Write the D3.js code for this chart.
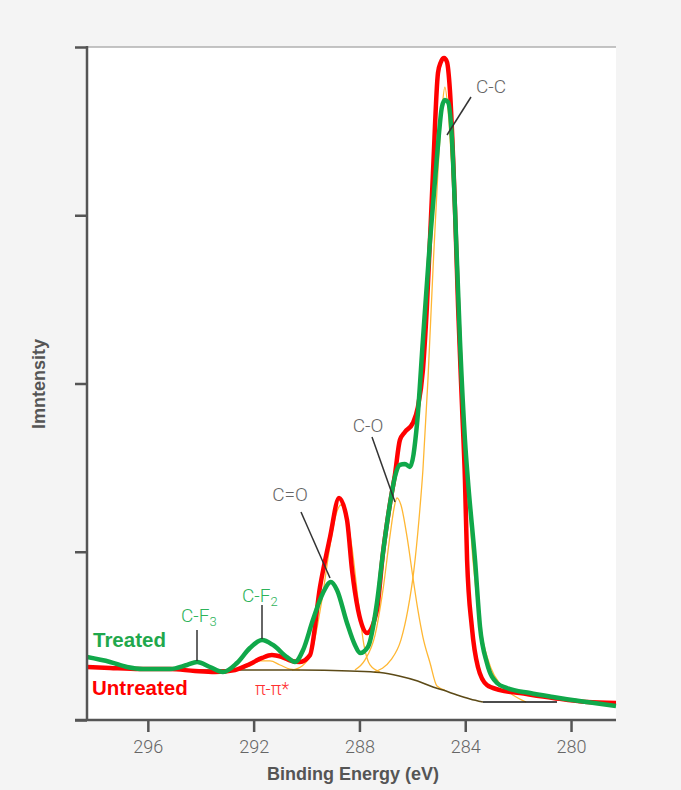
<!DOCTYPE html>
<html><head><meta charset="utf-8">
<script src="https://cdn.jsdelivr.net/npm/d3@7/dist/d3.min.js"></script>
<style>
html,body{margin:0;padding:0;background:#f4f4f4;}
svg{display:block;}
</style></head>
<body>
<svg id="chart" width="681" height="790"></svg>
<script>
// ---- Data (binding energy in eV, intensity in arbitrary counts) ----
const xTicks = [296, 292, 288, 284, 280];
const yTicks = [0, 1000, 2000, 3000, 4000];

const untreatedE = [298.30,297.43,296.30,295.16,294.22,293.46,292.70,292.14,291.68,291.31,290.93,290.55,290.25,289.87,289.49,289.11,288.77,288.47,288.28,288.05,287.71,287.34,287.11,286.84,286.66,286.47,286.28,285.98,285.79,285.60,285.45,285.22,285.03,284.92,284.80,284.69,284.58,284.39,284.27,284.12,284.01,283.93,283.75,283.52,283.18,282.69,281.93,280.68,279.40,278.30];
const untreatedI = [315,309,303,303,291,285,297,333,369,386,374,351,345,386,791,1088,1320,1189,892,654,517,654,993,1290,1456,1664,1712,1765,1860,2080,2455,3251,3846,3911,3935,3911,3745,3049,2455,1860,1427,951,553,315,208,178,160,131,107,101];

const treatedE = [298.30,297.43,296.79,296.18,295.16,294.52,294.14,293.65,293.16,292.63,292.14,291.68,291.27,290.74,290.44,290.13,289.76,289.38,289.08,288.85,288.47,288.17,287.98,287.68,287.34,287.11,286.84,286.66,286.47,286.28,286.09,285.82,285.60,285.33,285.07,284.88,284.77,284.65,284.50,284.39,284.20,284.01,283.90,283.63,283.44,283.18,282.80,282.42,281.55,280.68,279.40,278.30];
const treatedI = [374,345,315,303,303,327,345,315,285,339,428,476,446,374,345,416,594,755,820,773,577,446,398,434,695,993,1290,1444,1516,1522,1504,1765,2259,2853,3346,3644,3685,3673,3448,3049,2259,1664,1427,951,553,339,220,190,160,137,107,83];

const backgroundE = [294.03,292.14,290.25,288.36,287.22,286.50,285.80,285.22,284.84,284.31,283.82,283.33];
const backgroundI = [297,297,297,291,282,262,232,196,178,149,125,107];
const flatE = [283.33, 280.53];
const flatI = [107, 107];

// fitted components (orange)
const compCC_E = [287.45,286.81,286.43,286.17,285.94,285.75,285.60,285.41,285.22,285.03,284.88,284.77,284.65,284.50,284.31,284.12,283.93,283.71,283.40,283.03,282.65,282.20,281.70];
const compCC_I = [285,357,476,654,892,1189,1486,2021,2675,3269,3626,3762,3626,3269,2675,2021,1486,951,535,309,208,149,107];
const compCO_E = [288.17,287.79,287.41,287.11,286.84,286.69,286.58,286.43,286.20,285.98,285.79,285.60,285.33,285.07,284.77];
const compCO_I = [297,357,505,773,1100,1260,1320,1278,1088,850,654,493,339,202,178];
const compCEO_E = [290.55,290.17,289.79,289.42,289.11,288.89,288.70,288.51,288.28,288.05,287.83,287.60,287.22];
const compCEO_I = [297,321,416,713,1040,1219,1278,1219,1022,713,446,327,285];
const compPi_E = [292.70,292.14,291.76,291.38,291.00,290.63,290.25];
const compPi_I = [297,321,351,351,327,303,297];

// ---- Layout ----
const svg = d3.select('#chart');
const L = 87, R = 616, T = 47, B = 720;
const x = d3.scaleLinear().domain([298.3, 278.3]).range([L, R]);
const y = d3.scaleLinear().domain([0, 4000]).range([B, T]);

svg.append('rect').attr('x', L).attr('y', T).attr('width', R - L).attr('height', B - T).attr('fill', '#ffffff');
svg.append('line').attr('x1', L).attr('x2', R).attr('y1', T).attr('y2', T).attr('stroke', '#b0b0b0').attr('stroke-width', 1.5);

const zip = (E, I) => E.map((e, i) => ({e, v: I[i]})).sort((a, b) => x(a.e) - x(b.e));
const line = d3.line().x(d => x(d.e)).y(d => y(d.v)).curve(d3.curveMonotoneX);

const g = svg.append('g');
[[compPi_E, compPi_I], [compCEO_E, compCEO_I], [compCO_E, compCO_I], [compCC_E, compCC_I]].forEach(([E, I]) => {
  g.append('path').attr('d', line(zip(E, I))).attr('fill', 'none').attr('stroke', '#ffb733').attr('stroke-width', 1.3);
});
g.append('path').attr('d', line(zip(flatE, flatI))).attr('fill', 'none').attr('stroke', '#111').attr('stroke-width', 1.3);
g.append('path').attr('d', line(zip(backgroundE, backgroundI))).attr('fill', 'none').attr('stroke', '#5c4a17').attr('stroke-width', 1.6);

g.append('path').attr('d', line(zip(untreatedE, untreatedI))).attr('fill', 'none').attr('stroke', '#ff0000').attr('stroke-width', 4.5).attr('stroke-linejoin', 'round');
g.append('path').attr('d', line(zip(treatedE, treatedI))).attr('fill', 'none').attr('stroke', '#10a84a').attr('stroke-width', 4.5).attr('stroke-linejoin', 'round');

// ---- Axes ----
const xAxis = d3.axisBottom(x).tickValues(xTicks).tickSize(12).tickPadding(8).tickFormat(d3.format('d'));
const xg = svg.append('g').attr('transform', `translate(0,${B})`).call(xAxis);
xg.select('.domain').remove();
xg.selectAll('.tick line').attr('stroke', '#555').attr('stroke-width', 2.5);
xg.selectAll('.tick text').attr('fill', '#666').attr('font-size', 18).attr('font-family', 'Roboto, "Liberation Sans", Arial, sans-serif').attr('font-weight', 300);
svg.append('line').attr('x1', 75).attr('x2', R).attr('y1', B).attr('y2', B).attr('stroke', '#555').attr('stroke-width', 2.5);

const yAxis = d3.axisLeft(y).tickValues(yTicks).tickSize(12).tickFormat('');
const yg = svg.append('g').attr('transform', `translate(${L},0)`).call(yAxis);
yg.select('.domain').remove();
yg.selectAll('.tick line').attr('stroke', '#555').attr('stroke-width', 2.5);
svg.append('line').attr('x1', L).attr('x2', L).attr('y1', T - 1).attr('y2', B).attr('stroke', '#555').attr('stroke-width', 2.5);

const font = '"Liberation Sans", Arial, sans-serif';
svg.append('text').attr('x', 353).attr('y', 780).attr('text-anchor', 'middle').attr('font-family', font).attr('font-weight', 'bold').attr('font-size', 18).attr('fill', '#555').text('Binding Energy (eV)');
svg.append('text').attr('transform', 'translate(45,384) rotate(-90)').attr('text-anchor', 'middle').attr('font-family', font).attr('font-weight', 'bold').attr('font-size', 18).attr('fill', '#555').text('Imntensity');

// ---- Annotations ----
const ann = svg.append('g').attr('font-family', 'Roboto, "Liberation Sans", Arial, sans-serif').attr('font-size', 19).attr('font-weight', 300);
function lead(x1, y1, x2, y2) {
  ann.append('line').attr('x1', x1).attr('y1', y1).attr('x2', x2).attr('y2', y2).attr('stroke', '#333').attr('stroke-width', 1.5);
}
ann.append('text').attr('x', 491).attr('y', 93).attr('text-anchor', 'middle').attr('fill', '#666').text('C-C');
lead(471, 97, 447, 135);
ann.append('text').attr('x', 368).attr('y', 432).attr('text-anchor', 'middle').attr('fill', '#666').text('C-O');
lead(372, 437, 395, 502);
ann.append('text').attr('x', 290).attr('y', 501).attr('text-anchor', 'middle').attr('fill', '#666').text('C=O');
lead(301, 512, 330, 578);

const cf3 = ann.append('text').attr('x', 181).attr('y', 622).attr('fill', '#2db35a');
cf3.append('tspan').text('C-F');
cf3.append('tspan').attr('font-size', 13).attr('dy', 4).text('3');
lead(197, 630, 197, 661);
const cf2 = ann.append('text').attr('x', 242).attr('y', 602).attr('fill', '#2db35a');
cf2.append('tspan').text('C-F');
cf2.append('tspan').attr('font-size', 13).attr('dy', 4).text('2');
lead(262, 605, 262, 639);

ann.append('text').attr('x', 272).attr('y', 695).attr('text-anchor', 'middle').attr('fill', '#ff3030').attr('font-size', 18).text('π-π*');

svg.append('text').attr('x', 93).attr('y', 647).attr('font-family', font).attr('font-weight', 'bold').attr('font-size', 20.5).attr('fill', '#1fa84c').text('Treated');
svg.append('text').attr('x', 92).attr('y', 695).attr('font-family', font).attr('font-weight', 'bold').attr('font-size', 20.5).attr('fill', '#ff0000').text('Untreated');
</script>
</body></html>
